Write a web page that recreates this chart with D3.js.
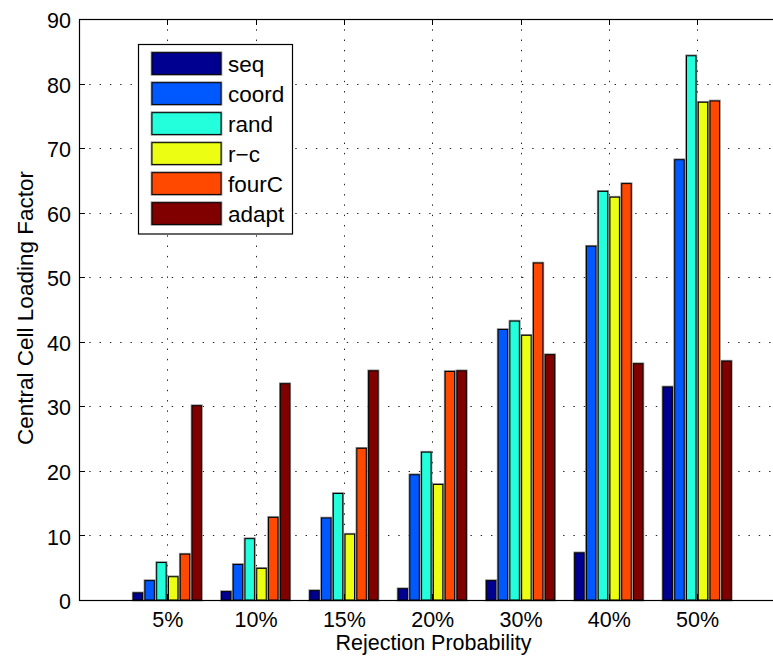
<!DOCTYPE html>
<html>
<head>
<meta charset="utf-8">
<script src="https://cdn.jsdelivr.net/npm/d3@7"></script>
<style>
  html, body { margin: 0; padding: 0; background: #fff; }
  svg { display: block; }
  text { font-family: "Liberation Sans", Arial, Helvetica, sans-serif; fill: #000; }
</style>
</head>
<body>
<svg id="chart" width="773" height="660"></svg>
<script>
// Rejection probability groups
const categories = ["5%", "10%", "15%", "20%", "30%", "40%", "50%"];
// Scheduling schemes
const seriesNames = ["seq", "coord", "rand", "r\u2212c", "fourC", "adapt"];
const seriesColors = ["#000090", "#0058FF", "#23FFDC", "#ECFF13", "#FF4900", "#800000"];

// Central cell loading factor per scheme, one value per group
const seq   = [1.1, 1.3, 1.45, 1.75, 3.0, 7.3, 33.0];
const coord = [3.0, 5.5, 12.7, 19.4, 41.9, 54.8, 68.2];
const rand  = [5.8, 9.5, 16.5, 22.9, 43.2, 63.3, 84.3];
const rc    = [3.6, 4.9, 10.2, 17.9, 41.0, 62.4, 77.1];
const fourC = [7.1, 12.8, 23.5, 35.4, 52.2, 64.5, 77.3];
const adapt = [30.1, 33.5, 35.5, 35.5, 38.0, 36.6, 37.0];
const seriesValues = [seq, coord, rand, rc, fourC, adapt];

const yTicks = [0, 10, 20, 30, 40, 50, 60, 70, 80, 90];

const svg = d3.select("#chart");
const plotLeft = 79, plotTop = 19, plotBottom = 600;
const step = 88.3;
const plotRight = plotLeft + (categories.length + 1) * step;

// Category positions sit at 1..7 on a 0..8 axis
const x = d3.scaleLinear().domain([0, categories.length + 1]).range([plotLeft, plotRight]);
const y = d3.scaleLinear().domain([0, 90]).range([plotBottom, plotTop]);
const inner = d3.scaleBand().domain(d3.range(seriesNames.length))
  .range([-0.4 * step, 0.4 * step]).paddingInner(0.2).paddingOuter(0.1);

const gridStyle = g => g.attr("stroke", "#222").attr("stroke-width", 1)
  .attr("stroke-dasharray", "1.4,8.9").attr("fill", "none");

// Grid lines
const grid = svg.append("g");
grid.selectAll("line.h").data(yTicks.slice(1, -1)).join("line")
  .attr("x1", plotLeft).attr("x2", plotRight)
  .attr("y1", d => Math.round(y(d)) + 0.5).attr("y2", d => Math.round(y(d)) + 0.5)
  .call(gridStyle);
grid.selectAll("line.v").data(categories).join("line")
  .attr("x1", (d, i) => Math.round(x(i + 1)) + 0.5).attr("x2", (d, i) => Math.round(x(i + 1)) + 0.5)
  .attr("y1", plotTop).attr("y2", plotBottom)
  .call(gridStyle);

// Bars
const bars = svg.append("g");
seriesValues.forEach((vals, s) => {
  const g = bars.append("g");
  vals.forEach((v, i) => {
    const bx = x(i + 1) + inner(s);
    const bw = inner.bandwidth();
    g.append("rect")
      .attr("x", bx).attr("y", y(v)).attr("width", bw).attr("height", y(0) - y(v))
      .attr("fill", "none").attr("stroke", "#8a8a8a").attr("stroke-width", 2.6);
    g.append("rect")
      .attr("x", bx).attr("y", y(v)).attr("width", bw).attr("height", y(0) - y(v))
      .attr("fill", seriesColors[s]).attr("stroke", "#000").attr("stroke-width", 1);
  });
});

// Axes box
svg.append("rect").attr("x", plotLeft + 0.5).attr("y", plotTop + 0.5)
  .attr("width", plotRight - plotLeft).attr("height", plotBottom - plotTop)
  .attr("fill", "none").attr("stroke", "#000").attr("stroke-width", 1.2);

// Y axis ticks and labels
const yAxis = d3.axisLeft(y).tickValues(yTicks).tickSize(0).tickPadding(8);
const ya = svg.append("g").attr("transform", `translate(${plotLeft},0)`).call(yAxis);
ya.select(".domain").remove();
ya.selectAll("text").attr("font-size", 21.5).attr("dy", "0.40em")
  .style("font-family", "'Liberation Sans', Arial, sans-serif");
svg.append("g").selectAll("line").data(yTicks).join("line")
  .attr("x1", plotLeft).attr("x2", plotLeft + 6)
  .attr("y1", d => Math.round(y(d)) + 0.5).attr("y2", d => Math.round(y(d)) + 0.5)
  .attr("stroke", "#000");

// X axis ticks and labels
const xAxis = d3.axisBottom(x).tickValues(d3.range(1, categories.length + 1))
  .tickFormat(d => categories[d - 1]).tickSize(0).tickPadding(12);
const xa = svg.append("g").attr("transform", `translate(0,${plotBottom})`).call(xAxis);
xa.select(".domain").remove();
xa.selectAll("text").attr("font-size", 21.5).attr("dy", "0.71em")
  .style("font-family", "'Liberation Sans', Arial, sans-serif");
const xt = svg.append("g");
categories.forEach((c, i) => {
  const px = Math.round(x(i + 1)) + 0.5;
  xt.append("line").attr("x1", px).attr("x2", px).attr("y1", plotBottom).attr("y2", plotBottom - 6).attr("stroke", "#000");
  xt.append("line").attr("x1", px).attr("x2", px).attr("y1", plotTop).attr("y2", plotTop + 6).attr("stroke", "#000");
});

// Axis titles
svg.append("text").attr("x", 433.5).attr("y", 650)
  .attr("text-anchor", "middle").attr("font-size", 21.5).text("Rejection Probability");
svg.append("text").attr("transform", "translate(33,308) rotate(-90)")
  .attr("text-anchor", "middle").attr("font-size", 22.5).text("Central Cell Loading Factor");

// Legend
const lg = svg.append("g");
lg.append("rect").attr("x", 138.5).attr("y", 44.5).attr("width", 154).attr("height", 189.5)
  .attr("fill", "#fff").attr("stroke", "#000").attr("stroke-width", 1.2);
seriesNames.forEach((n, s) => {
  const sy = 52.7 + s * 30;
  lg.append("rect").attr("x", 152).attr("y", sy).attr("width", 69).attr("height", 21.7)
    .attr("fill", "none").attr("stroke", "#8a8a8a").attr("stroke-width", 2.6);
  lg.append("rect").attr("x", 152).attr("y", sy).attr("width", 69).attr("height", 21.7)
    .attr("fill", seriesColors[s]).attr("stroke", "#000").attr("stroke-width", 1);
  lg.append("text").attr("x", 228).attr("y", sy + 19.5).attr("font-size", 22.5).text(n);
});
</script>
</body>
</html>
